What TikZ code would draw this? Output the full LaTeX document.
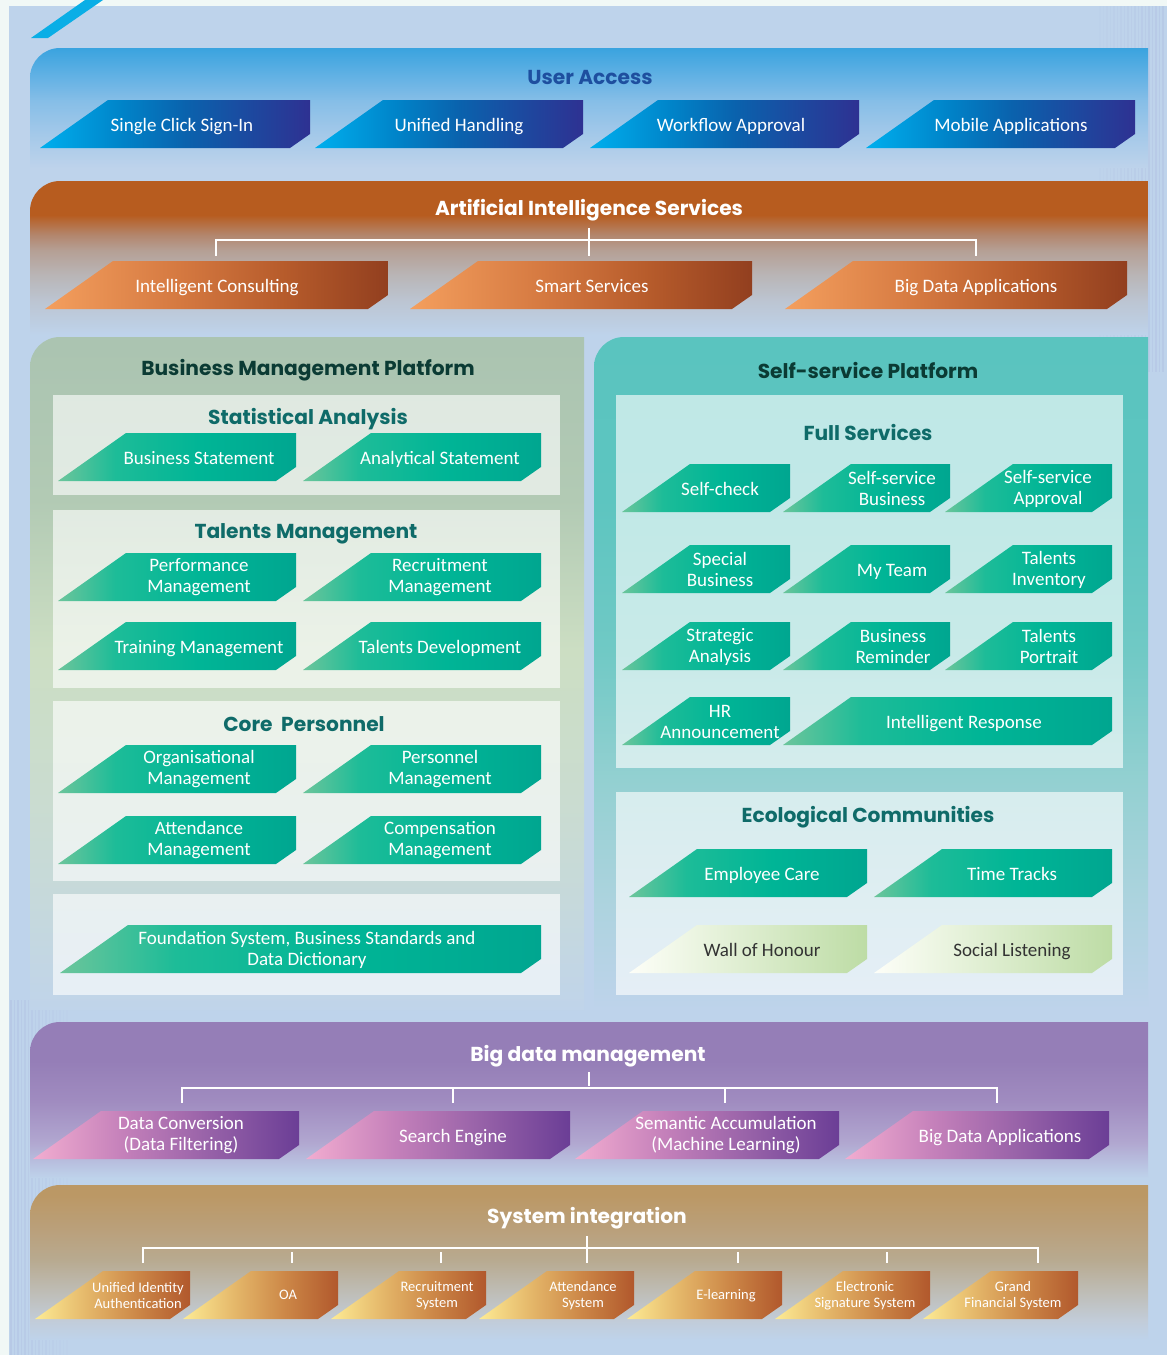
\documentclass[tikz,border=0pt]{standalone}
\usepackage{fontspec}
\setmainfont{Carlito}
\newfontfamily\ttlfont{Poppins}
% ---------- colours
\definecolor{pagebg}{HTML}{F1F8F6}
\definecolor{bgblue}{HTML}{BED3EB}
\definecolor{stripe}{HTML}{0AAEE6}
\definecolor{vline}{HTML}{A3AEDA}
\definecolor{darktext}{HTML}{333333}
\definecolor{uattl}{HTML}{1E4F9F}
\definecolor{pfttl}{HTML}{0B3B34}
\definecolor{subttl}{HTML}{0F6B69}
% band colours
\definecolor{uaA}{HTML}{3AA3DF}\definecolor{uaB}{HTML}{6AB4E5}\definecolor{uaC}{HTML}{86BEE7}\definecolor{uaD}{HTML}{A2C8E9}
\definecolor{aiA}{HTML}{B75C1F}\definecolor{aiB}{HTML}{B3866D}\definecolor{aiC}{HTML}{B59F94}\definecolor{aiD}{HTML}{B9B5B6}\definecolor{aiE}{HTML}{BCC5D2}
\definecolor{bdA}{HTML}{957EB7}\definecolor{bdB}{HTML}{A08CC0}\definecolor{bdC}{HTML}{B1A7D0}
\definecolor{siA}{HTML}{BB9865}\definecolor{siB}{HTML}{BAA07B}\definecolor{siC}{HTML}{B8AA90}\definecolor{siD}{HTML}{BEBCB4}\definecolor{siE}{HTML}{C2CCD8}
\definecolor{bmA}{HTML}{ABC4B1}\definecolor{bmB}{HTML}{B2CAB4}\definecolor{bmC}{HTML}{CCDEC3}\definecolor{bmD}{HTML}{CADCD0}\definecolor{bmE}{HTML}{C6D9DB}\definecolor{bmF}{HTML}{C0D4EA}
\definecolor{spA}{HTML}{5AC4BF}\definecolor{spB}{HTML}{5DC5C0}\definecolor{spC}{HTML}{70C9C5}\definecolor{spD}{HTML}{93D0D1}\definecolor{spE}{HTML}{ACD3DE}
% button colours
\definecolor{bbA}{HTML}{00AFEE}\definecolor{bbB}{HTML}{0084C9}\definecolor{bbC}{HTML}{0A62AD}\definecolor{bbD}{HTML}{2E3192}
\definecolor{obA}{HTML}{F49F5E}\definecolor{obB}{HTML}{D47840}\definecolor{obC}{HTML}{B65B2B}\definecolor{obD}{HTML}{923F1F}
\definecolor{gbA}{HTML}{6CC59B}\definecolor{gbB}{HTML}{1DBC98}\definecolor{gbC}{HTML}{00B596}\definecolor{gbD}{HTML}{00A690}
\definecolor{lbA}{HTML}{FDFEF8}\definecolor{lbB}{HTML}{BDDCA5}
\definecolor{pbA}{HTML}{F2ADD0}\definecolor{pbB}{HTML}{C480BA}\definecolor{pbC}{HTML}{9762A8}\definecolor{pbD}{HTML}{6B3E96}
\definecolor{ybA}{HTML}{FDEB94}\definecolor{ybB}{HTML}{E4B669}\definecolor{ybC}{HTML}{CC8747}\definecolor{ybD}{HTML}{B1582C}
% ---------- shadings (bbox maps to 25bp..75bp)
\pgfdeclareverticalshading{uashade}{100bp}{color(0bp)=(bgblue); color(25bp)=(bgblue); color(40bp)=(uaD); color(53bp)=(uaC); color(61bp)=(uaB); color(75bp)=(uaA); color(100bp)=(uaA)}
\pgfdeclareverticalshading{aishade}{100bp}{color(0bp)=(bgblue); color(25bp)=(bgblue); color(36bp)=(aiE); color(44.5bp)=(aiD); color(52.6bp)=(aiC); color(57.5bp)=(aiB); color(64bp)=(aiA); color(100bp)=(aiA)}
\pgfdeclareverticalshading{bdshade}{100bp}{color(0bp)=(bgblue); color(25bp)=(bgblue); color(36.4bp)=(bdC); color(49.5bp)=(bdB); color(62.6bp)=(bdA); color(100bp)=(bdA)}
\pgfdeclareverticalshading{sishade}{100bp}{color(0bp)=(bgblue); color(25bp)=(bgblue); color(31.5bp)=(siE); color(41.1bp)=(siD); color(50.8bp)=(siC); color(60.5bp)=(siB); color(71.8bp)=(siA); color(100bp)=(siA)}
\pgfdeclareverticalshading{bmshade}{100bp}{color(0bp)=(bmF); color(25bp)=(bmF); color(33.2bp)=(bmE); color(40.6bp)=(bmD); color(51.7bp)=(bmC); color(62.9bp)=(bmB); color(74.4bp)=(bmA); color(100bp)=(bmA)}
\pgfdeclareverticalshading{spshade}{100bp}{color(0bp)=(bgblue); color(25bp)=(bgblue); color(33.2bp)=(spE); color(42.1bp)=(spD); color(51.7bp)=(spC); color(62.9bp)=(spB); color(75bp)=(spA); color(100bp)=(spA)}
\pgfdeclarehorizontalshading{bluebtn}{100bp}{color(0bp)=(bbA); color(25bp)=(bbA); color(40bp)=(bbB); color(52bp)=(bbC); color(75bp)=(bbD); color(100bp)=(bbD)}
\pgfdeclarehorizontalshading{orangebtn}{100bp}{color(0bp)=(obA); color(25bp)=(obA); color(45bp)=(obB); color(60bp)=(obC); color(75bp)=(obD); color(100bp)=(obD)}
\pgfdeclarehorizontalshading{greenbtn}{100bp}{color(0bp)=(gbA); color(25bp)=(gbA); color(37bp)=(gbB); color(55bp)=(gbC); color(75bp)=(gbD); color(100bp)=(gbD)}
\pgfdeclarehorizontalshading{lightbtn}{100bp}{color(0bp)=(lbA); color(25bp)=(lbA); color(75bp)=(lbB); color(100bp)=(lbB)}
\pgfdeclarehorizontalshading{purplebtn}{100bp}{color(0bp)=(pbA); color(25bp)=(pbA); color(42bp)=(pbB); color(58bp)=(pbC); color(75bp)=(pbD); color(100bp)=(pbD)}
\pgfdeclarehorizontalshading{goldbtn}{100bp}{color(0bp)=(ybA); color(25bp)=(ybA); color(42bp)=(ybB); color(58bp)=(ybC); color(75bp)=(ybD); color(100bp)=(ybD)}
% ---------- helpers
% band / panel with a rounded top-left corner
\newcommand\Band[5]{%
  \shade[shading=#1] (#2,#5) -- (#2,#3+30) .. controls (#2,#3+13.4) and (#2+13.4,#3) .. (#2+30,#3) -- (#4,#3) -- (#4,#5) -- cycle;}
% button: [node opts]{name}{shading}{x0}{x1}{ytop}{text x}{text}
\newcommand\BtnShape[4]{%
  \shade[shading=#1] (#2,#4+48) -- (#2+68,#4) -- (#3,#4) -- (#3,#4+34) -- (#3-20,#4+48) -- cycle;}
\newcommand\Btn[8][]{\BtnShape{#3}{#4}{#5}{#6}\node[btn,anchor=base,#1] (#2) at (#7,#6+31) {#8};}
\newcommand\BtnT[8][]{\BtnShape{#3}{#4}{#5}{#6}\node[btn,#1] (#2) at (#7,#6+24.5) {#8};}

\begin{document}
\begin{tikzpicture}[x=1pt,y=-1pt,
  btn/.style={text=white, font=\fontsize{19}{21}\selectfont, align=center, inner sep=0pt},
  sm/.style={font=\fontsize{14.5}{16}\selectfont},
  dk/.style={text=darktext},
  ttl/.style={font=\ttlfont\bfseries\fontsize{20.2}{23}\selectfont, inner sep=0pt, yshift=-2pt},
  brk/.style={draw=white, line width=2.6pt},
  subpanel/.style={fill=white, fill opacity=0.62},
  vstripe/.style={draw=vline, line width=1.3pt}]
\useasboundingbox (0,0) rectangle (1167,1355);
% background
\fill[pagebg] (0,0) rectangle (1167,1355);
\fill[bgblue] (9,6) rectangle (1167,1355);
% faint vertical stripes of the background
\foreach \k in {0,...,18} {
  \pgfmathsetmacro\sx{1100+3.5*\k}
  \pgfmathsetmacro\so{0.04+0.20*\k/18}
  \draw[vstripe, draw opacity=\so] (\sx,6) -- (\sx,372);
}
\foreach \k in {0,...,16} {
  \pgfmathsetmacro\sx{11+3.5*\k}
  \pgfmathsetmacro\so{0.25-0.22*\k/16}
  \draw[vstripe, draw opacity=\so] (\sx,1000) -- (\sx,1355);
}
\fill[stripe] (31,38) -- (48,38) -- (103,0) -- (85,0) -- cycle;

% ================= User Access
\Band{uashade}{30}{48}{1148}{168}
\node[ttl,text=uattl] (tUA) at (590,75) {User Access};
\Btn{ua1}{bluebtn}{40}{310}{100}{182}{Single Click Sign-In}
\Btn{ua2}{bluebtn}{315}{583}{100}{459}{Unified Handling}
\Btn{ua3}{bluebtn}{590}{859}{100}{731}{Workflow Approval}
\Btn{ua4}{bluebtn}{866}{1135}{100}{1011}{Mobile Applications}

% ================= AI services
\Band{aishade}{30}{181}{1148}{335}
\node[ttl,text=white] (tAI) at (589,208) {Artificial Intelligence Services};
\draw[brk] (216,256) -- (216,240) -- (976,240) -- (976,256);
\draw[brk] (589,228) -- (589,256);
\Btn{ai1}{orangebtn}{45}{388}{261}{217}{Intelligent Consulting}
\Btn{ai2}{orangebtn}{410}{752}{261}{592}{Smart Services}
\Btn{ai3}{orangebtn}{785}{1127}{261}{976}{Big Data Applications}

% ================= Business Management Platform
\Band{bmshade}{30}{337}{584}{1010}
\node[ttl,text=pfttl] (tBMP) at (308,368) {Business Management Platform};
\fill[subpanel] (53,395) rectangle (560,495);
\fill[subpanel] (53,510) rectangle (560,688);
\fill[subpanel] (53,701) rectangle (560,881);
\fill[subpanel] (53,894) rectangle (560,995);
\node[ttl,text=subttl] (tSA) at (308,417) {Statistical Analysis};
\Btn{bs}{greenbtn}{58}{296}{433}{199}{Business Statement}
\Btn{as}{greenbtn}{303}{541}{433}{440}{Analytical Statement}
\node[ttl,text=subttl] (tTM) at (306,532) {Talents Management};
\BtnT{pm}{greenbtn}{58}{296}{553}{199}{Performance\\Management}
\BtnT{rm}{greenbtn}{303}{541}{553}{440}{Recruitment\\Management}
\Btn{tm}{greenbtn}{58}{296}{622}{199}{Training Management}
\Btn{td}{greenbtn}{303}{541}{622}{440}{Talents Development}
\node[ttl,text=subttl] (tCP) at (304,722) {Core\ \ Personnel};
\BtnT{om}{greenbtn}{58}{296}{745}{199}{Organisational\\Management}
\BtnT{pem}{greenbtn}{303}{541}{745}{440}{Personnel\\Management}
\BtnT{atm}{greenbtn}{58}{296}{816}{199}{Attendance\\Management}
\BtnT{cm}{greenbtn}{303}{541}{816}{440}{Compensation\\Management}
\BtnT{fs}{greenbtn}{60}{541}{925}{307}{Foundation System, Business Standards and\\Data Dictionary}

% ================= Self-service Platform
\Band{spshade}{594}{337}{1148}{1010}
\node[ttl,text=pfttl] (tSSP) at (868,368) {Self-service Platform};
\fill[subpanel] (616,395) rectangle (1123,768);
\fill[subpanel] (616,792) rectangle (1123,995);
\node[ttl,text=subttl] (tFS) at (868,430) {Full Services};
\Btn{sc}{greenbtn}{622}{790}{464}{720}{Self-check}
\BtnT{ssb}{greenbtn}{783}{950}{464}{892}{Self-service\\Business}
\BtnT{ssa}{greenbtn}{945}{1112}{464}{1048}{Self-service\\Approval}
\BtnT{sb}{greenbtn}{622}{790}{545}{720}{Special\\Business}
\Btn{mt}{greenbtn}{783}{950}{545}{892}{My Team}
\BtnT{ti}{greenbtn}{945}{1112}{545}{1049}{Talents\\Inventory}
\BtnT{sa}{greenbtn}{622}{790}{622}{720}{Strategic\\Analysis}
\BtnT{br}{greenbtn}{783}{950}{622}{893}{Business\\Reminder}
\BtnT{tp}{greenbtn}{945}{1112}{622}{1049}{Talents\\Portrait}
\BtnT{hr}{greenbtn}{622}{790}{697}{720}{HR\\Announcement}
\Btn{ir}{greenbtn}{783}{1112}{697}{964}{Intelligent Response}
\node[ttl,text=subttl] (tEC) at (868,815) {Ecological Communities};
\Btn{ec}{greenbtn}{629}{867}{849}{762}{Employee Care}
\Btn{tt}{greenbtn}{874}{1112}{849}{1012}{Time Tracks}
\Btn[dk]{wh}{lightbtn}{629}{867}{925}{762}{Wall of Honour}
\Btn[dk]{sl}{lightbtn}{874}{1112}{925}{1012}{Social Listening}

% ================= Big data management
\Band{bdshade}{30}{1022}{1148}{1178}
\node[ttl,text=white] (tBD) at (588,1054) {Big data management};
\draw[brk] (589,1072) -- (589,1086);
\draw[brk] (182,1103) -- (182,1088) -- (997,1088) -- (997,1103);
\draw[brk] (453,1088) -- (453,1103);
\draw[brk] (725,1088) -- (725,1103);
\BtnT{bd1}{purplebtn}{33}{299}{1111}{181}{Data Conversion\\(Data Filtering)}
\Btn{bd2}{purplebtn}{306}{570}{1111}{453}{Search Engine}
\BtnT{bd3}{purplebtn}{575}{839}{1111}{726}{Semantic Accumulation\\(Machine Learning)}
\Btn{bd4}{purplebtn}{845}{1109}{1111}{1000}{Big Data Applications}

% ================= System integration
\Band{sishade}{30}{1185}{1148}{1340}
\node[ttl,text=white] (tSI) at (587,1216) {System integration};
\draw[brk] (143,1263) -- (143,1248) -- (1038,1248) -- (1038,1263);
\draw[brk] (587,1236) -- (587,1263);
\foreach \sx in {292,441,738,887} \draw[brk] (\sx,1252) -- (\sx,1263);
\BtnT[sm]{si1}{goldbtn}{35}{190}{1271}{138}{Unified Identity\\Authentication}
\Btn[sm,yshift=3pt]{si2}{goldbtn}{183}{338}{1271}{288}{OA}
\BtnT[sm]{si3}{goldbtn}{331}{486}{1271}{437}{Recruitment\\System}
\BtnT[sm]{si4}{goldbtn}{479}{634}{1271}{583}{Attendance\\System}
\Btn[sm,yshift=3pt]{si5}{goldbtn}{627}{782}{1271}{726}{E-learning}
\BtnT[sm]{si6}{goldbtn}{775}{930}{1271}{865}{Electronic\\Signature System}
\BtnT[sm]{si7}{goldbtn}{923}{1078}{1271}{1013}{Grand\\Financial System}
\end{tikzpicture}
\end{document}
